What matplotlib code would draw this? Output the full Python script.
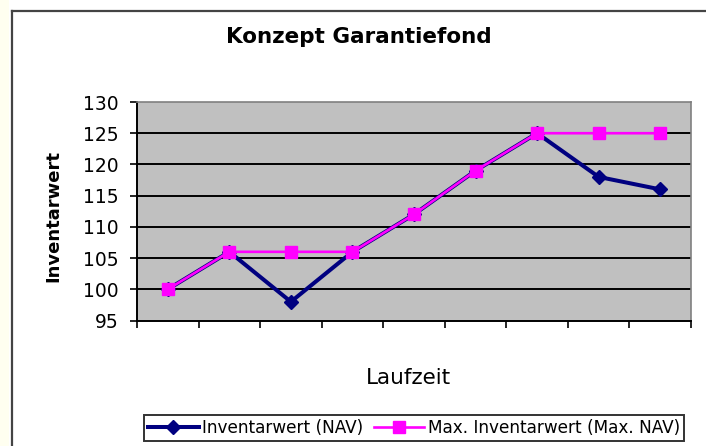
import numpy as np
import matplotlib.pyplot as plt
from matplotlib.patches import Rectangle
from matplotlib.lines import Line2D

# values
periods = np.arange(1, 10)
nav     = [100, 106, 98, 106, 112, 119, 125, 118, 116]
max_nav = [100, 106, 106, 106, 112, 119, 125, 125, 125]
yticks  = [95, 100, 105, 110, 115, 120, 125, 130]

W, H = 706, 446
plt.rcParams['font.family'] = ['DejaVu Sans']
fig = plt.figure(figsize=(W / 100, H / 100), dpi=100)

# outer chart frame (only left and top visible in reference)
fig.patches.append(Rectangle((0, 0), 9 / W, 1, transform=fig.transFigure,
                             facecolor='#fffff0', edgecolor='none', zorder=0))
fig.add_artist(Line2D([11.5 / W, 11.5 / W], [0, 1 - 10.5 / H], color='#444444',
                      lw=1.6, transform=fig.transFigure))
fig.add_artist(Line2D([11.5 / W, 1], [1 - 10.5 / H, 1 - 10.5 / H], color='#444444',
                      lw=1.6, transform=fig.transFigure))

ax = fig.add_axes([137 / W, 1 - 320.5 / H, (691 - 137) / W, (320.5 - 102) / H])
ax.set_facecolor('#c0c0c0')

for y in yticks[1:-1]:
    ax.axhline(y, color='black', lw=1.4, zorder=1)

ax.plot(periods, nav, color='#000080', lw=2.9, marker='D', ms=7,
        mec='#000080', mfc='#000080', zorder=3, label='Inventarwert (NAV)')
ax.plot(periods, max_nav, color='#ff00ff', lw=1.9, marker='s', ms=8.5,
        mec='#ff00ff', mfc='#ff00ff', zorder=4, label='Max. Inventarwert (Max. NAV)')

ax.set_xlim(0.5, 9.5)
ax.set_ylim(95, 130)
ax.set_yticks(yticks)
ax.set_xticks(np.arange(0.5, 10.5, 1))
ax.set_xticklabels([])
ax.tick_params(axis='y', labelsize=13.5, length=5, width=1.2, direction='out', pad=8)
ax.tick_params(axis='x', length=5, width=1.2, direction='out')

for s in ('top', 'right'):
    ax.spines[s].set_color('#808080')
    ax.spines[s].set_linewidth(1.2)
for s in ('left', 'bottom'):
    ax.spines[s].set_color('black')
    ax.spines[s].set_linewidth(1.4)

ax.set_ylabel('Inventarwert', fontsize=13, fontweight='bold', va='center')
ax.yaxis.set_label_coords((53 - 137) / 554, 0.48)
ax.set_xlabel('Laufzeit', fontsize=15.5, va='center')
ax.xaxis.set_label_coords(0.49, (320.5 - 378) / 218.5)

fig.text(359 / W, 1 - 37 / H, 'Konzept Garantiefond', fontsize=15.5,
         fontweight='bold', ha='center', va='center')

leg = fig.legend(loc='center', bbox_to_anchor=(414 / W, 1 - 428 / H), ncol=2,
                 fontsize=12.2, frameon=True, fancybox=False, handlelength=3,
                 handletextpad=0.2, columnspacing=0.6, borderpad=0.25)
leg.get_frame().set_edgecolor('black')
leg.get_frame().set_linewidth(1.4)

fig.savefig('out.png', dpi=100)
